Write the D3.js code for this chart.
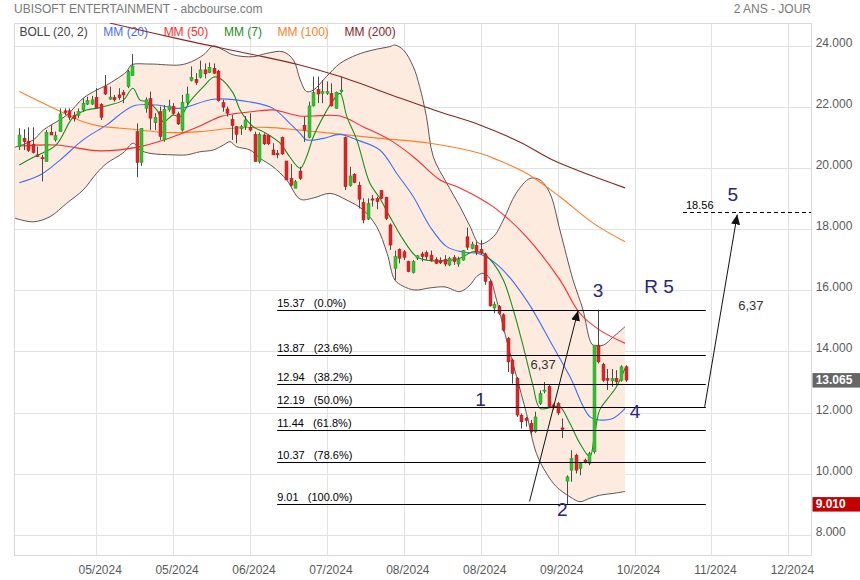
<!DOCTYPE html>
<html><head><meta charset="utf-8">
<script src="https://cdn.jsdelivr.net/npm/d3@7"></script>
<style>
body{margin:0;background:#fff;}
svg{display:block;font-family:"Liberation Sans",Arial,Helvetica,sans-serif;}
</style>
</head><body>
<svg id="c" width="860" height="580"></svg>
<script>
// ---------------- DATA ----------------
const title = "UBISOFT ENTERTAINMENT - abcbourse.com";
const period = "2 ANS - JOUR";
const xTickIdx = [17,34,51,68,85,102,119,136,153,170];
const xTickLabels = ["05/2024","05/2024","06/2024","07/2024","08/2024","08/2024","09/2024","10/2024","11/2024","12/2024"];
const yTicks = [8,10,12,14,16,18,20,22,24];

const open = [20.70,20.97,20.88,20.77,20.43,20.34,20.21,21.17,20.92,21.19,
21.87,21.87,21.72,21.72,21.90,22.09,22.09,22.31,22.08,22.68,
22.25,22.31,22.39,22.47,22.66,23.02,21.19,20.18,21.95,22.27,
21.48,21.84,20.92,21.90,22.01,21.77,21.24,22.14,22.86,22.90,
22.97,23.21,23.12,23.26,23.17,22.14,21.93,21.59,21.35,21.28,
21.35,21.33,21.10,20.21,21.08,21.07,20.59,20.48,21.00,20.23,
19.66,19.34,19.90,21.40,21.00,22.03,22.57,22.44,22.44,22.44,
21.95,22.50,21.00,19.42,19.79,19.44,18.87,18.33,18.99,19.00,
19.26,19.04,18.14,16.72,17.34,17.26,16.94,16.58,17.05,17.19,
17.23,17.15,17.01,16.97,17.01,16.83,17.07,16.86,16.99,17.75,
17.37,17.47,17.34,17.19,16.29,15.42,15.47,15.20,14.43,13.72,
13.12,11.92,11.81,11.65,11.38,12.30,12.70,12.85,12.25,12.30,
11.50,9.76,10.12,10.61,10.17,10.45,10.34,10.72,14.21,13.58,
13.12,13.04,13.12,13.06,13.50];
const high = [21.30,21.27,21.33,21.33,20.70,20.43,21.24,21.41,21.19,21.95,
21.95,21.95,21.84,21.95,22.28,22.33,22.36,22.61,22.12,23.04,
22.66,22.39,22.61,22.55,23.21,23.73,21.46,21.30,22.31,22.50,
21.79,22.01,22.06,22.23,22.12,21.84,22.39,22.66,23.32,23.10,
23.51,23.42,23.45,23.42,23.21,22.23,22.01,21.73,21.37,21.41,
21.70,21.79,21.19,21.16,21.13,21.08,20.81,20.59,21.03,20.23,
20.13,19.61,20.04,21.68,22.17,22.99,22.99,22.88,22.83,22.77,
22.50,22.99,21.03,20.04,19.83,19.55,19.01,19.01,19.12,19.06,
19.28,19.06,18.19,17.30,17.37,17.32,16.97,16.99,17.15,17.26,
17.30,17.30,17.08,17.08,17.15,17.10,17.15,17.10,17.32,18.05,
17.59,17.60,17.65,17.23,16.35,15.63,15.52,15.25,14.48,13.77,
13.17,11.97,11.86,11.76,12.03,12.73,13.00,12.90,12.30,12.35,
11.81,9.95,10.77,10.66,10.39,10.50,10.72,14.21,15.37,13.63,
13.43,13.43,13.39,13.55,13.55];
const low = [20.59,20.59,20.53,20.48,20.37,19.56,20.21,21.08,20.86,21.19,
21.73,21.57,21.52,21.63,21.84,22.06,22.06,21.95,21.57,22.39,
22.23,22.17,22.23,22.12,22.61,23.02,19.70,20.07,21.81,21.24,
21.24,20.92,20.86,21.84,21.73,21.41,21.19,22.06,22.83,22.72,
22.93,22.93,23.10,23.08,22.17,21.84,21.68,20.92,20.81,21.08,
21.24,21.19,20.21,20.15,20.75,20.75,20.43,20.32,20.43,19.61,
19.39,19.34,19.61,20.85,20.97,22.01,22.12,22.12,22.39,22.01,
21.95,22.44,19.28,19.39,19.50,18.68,18.19,18.30,18.74,18.65,
18.98,18.30,17.32,16.34,16.88,16.99,16.59,16.55,16.99,16.94,
16.99,16.94,16.86,16.86,16.79,16.79,16.83,16.77,16.97,17.32,
17.34,17.15,17.16,16.18,15.47,15.25,15.20,14.65,13.33,12.95,
11.86,11.48,11.54,11.27,11.34,12.25,12.63,12.19,12.10,11.92,
11.17,9.01,9.74,10.01,9.95,10.34,10.28,10.66,13.61,13.01,
12.74,12.85,12.90,13.01,13.01];
const close = [21.08,20.86,20.57,20.50,20.37,20.31,21.17,21.08,21.06,21.77,
21.81,21.66,21.61,21.84,22.12,22.20,22.23,21.96,21.66,22.42,
22.32,22.23,22.30,22.39,23.15,23.34,20.18,21.30,22.23,21.63,
21.66,21.03,21.92,22.03,21.79,21.44,22.15,22.42,22.97,22.79,
23.21,23.08,23.29,23.10,22.20,21.99,21.79,21.39,21.10,21.35,
21.57,21.24,20.21,21.10,20.79,20.79,20.43,20.43,20.46,19.61,
19.44,19.55,19.66,21.24,22.03,22.47,22.42,22.50,22.50,22.03,
22.48,22.55,19.39,19.74,19.53,18.98,18.30,18.84,18.95,18.90,
19.01,18.35,17.48,17.10,17.05,17.08,16.61,16.94,17.13,17.10,
17.10,16.99,16.88,16.90,16.86,17.05,16.94,17.01,17.30,17.41,
17.51,17.25,17.22,16.29,15.49,15.55,15.25,14.70,13.66,13.28,
11.92,11.70,11.75,11.38,11.86,12.63,12.74,12.19,12.20,11.99,
11.45,9.90,10.50,10.12,10.34,10.39,10.66,14.21,13.66,13.06,
13.06,13.11,13.01,13.50,13.065];

// indicator readings [day index, value]
const bollUpper = [[-0.95,20.68],[3.1,20.92],[5.3,21.24],[10.5,21.73],[14.1,22.28],[17.1,22.55],[19.3,22.71],[23.7,23.15],[24.8,23.37],[28.9,23.40],[35.5,23.37],[38.1,23.48],[40.7,23.70],[42.9,23.99],[45.1,23.86],[47.3,23.70],[51.7,23.64],[54.7,23.75],[58.3,23.80],[60.6,23.53],[62.1,22.88],[63.5,22.50],[65,22.55],[67.9,22.99],[70.9,23.42],[74.6,23.70],[78.2,23.86],[81.9,23.97],[83,24.02],[84.9,23.86],[87.1,23.31],[88.5,22.66],[90,21.68],[91.5,20.37],[94.5,19.50],[97.4,18.74],[99.6,18.10],[101.8,17.52],[104.8,17.75],[107,18.30],[109.8,19.17],[112.9,19.66],[115.1,19.61],[117.3,19.17],[119.5,17.97],[122.4,16.34],[124.6,15.36],[126.1,14.38],[126.8,14.21],[129.1,14.21],[131.3,14.48],[133.9,14.81]];
const bollLower = [[-0.95,18.36],[3.1,18.24],[6.8,18.41],[10.5,18.85],[14.1,19.28],[17.1,19.83],[19.3,20.15],[22.9,20.49],[25.2,20.81],[26.7,20.59],[28.9,20.48],[34,20.43],[37,20.43],[39.9,20.53],[42.9,20.59],[45.1,20.75],[46.6,20.86],[48,20.70],[51,20.59],[53.2,20.32],[56.1,20.04],[59.1,19.61],[62.1,18.98],[65,19.02],[68.7,19.17],[72.4,18.95],[76,18.63],[79,18.08],[81.3,17.21],[83,16.34],[84.8,16.14],[87.4,16.01],[90.8,16.08],[94.1,16.11],[97.4,15.96],[99.6,16.17],[101.1,16.45],[102.5,16.56],[104,16.39],[105.5,15.68],[107.7,14.38],[109.9,13.18],[112.1,11.98],[114.3,10.67],[116.5,10.02],[118.7,9.58],[121.7,9.25],[123.9,9.09],[126.1,9.20],[128.3,9.30],[131.3,9.36],[133.9,9.42]];
const mm20 = [[0,19.52],[4.6,19.77],[9,20.26],[14.1,20.92],[19.3,21.41],[25.2,22.03],[30.4,22.06],[35.5,21.95],[42.9,22.25],[51,22.16],[56.1,21.95],[59.8,21.46],[62,21.14],[63.5,20.92],[67.2,20.97],[70.9,21.10],[74.6,20.92],[79.7,20.59],[83.4,19.83],[87.1,19.06],[90.8,18.08],[94.5,17.43],[98.1,17.25],[101.8,17.19],[106.2,16.77],[112.1,15.68],[118,14.16],[121.7,13.18],[126.1,11.87],[128.3,11.76],[131.3,11.82],[133.9,12.14]];
const mm50 = [[0,20.72],[8.3,20.75],[17.8,20.56],[26.7,20.70],[34,21.02],[39.9,21.37],[44.4,21.68],[47.3,21.77],[53.2,21.87],[56.1,21.90],[62,21.70],[65,21.70],[70.9,21.70],[76,21.35],[81.9,20.92],[87.1,20.37],[93,19.61],[97.4,19.35],[104.8,18.73],[112.1,17.75],[119.5,16.34],[123.9,15.25],[128.3,14.70],[133.9,14.27]];
const mm7 = [[0,20.10],[3.1,20.35],[8.1,20.75],[11.9,21.66],[14.9,21.90],[17.1,21.95],[20,22.06],[23,22.22],[25.1,22.61],[26.7,22.22],[28.2,22.17],[30.4,21.90],[31.8,21.51],[34,21.73],[35.5,21.68],[37.7,22.17],[40.7,22.66],[42.9,22.97],[44.4,22.93],[47.3,22.44],[48.8,21.90],[51.7,21.35],[53.9,21.19],[57.6,20.82],[59.8,20.36],[62.1,19.99],[63.5,20.37],[65,21.02],[67.2,21.68],[69.4,22.22],[70.9,22.44],[72.4,21.68],[74.6,20.92],[77.5,19.50],[79.7,19.01],[81.9,18.41],[84.9,17.65],[87.8,17.10],[90.8,16.97],[94.5,16.97],[97.4,17.05],[100.3,17.26],[102.5,17.21],[104.8,16.88],[107,16.34],[109.2,15.36],[111.4,14.16],[113.6,12.85],[115.1,12.14],[118,12.19],[119.5,12.19],[121.7,11.65],[123.9,11.00],[126.1,10.56],[127.2,11.33],[128.3,12.09],[129.8,12.41],[132,12.85],[133.9,13.45]];
const mm100 = [[0,22.50],[6.8,22.01],[14.1,21.51],[17.8,21.37],[25.1,21.27],[32.6,21.16],[39.9,21.19],[47.2,21.30],[54.7,21.33],[62,21.24],[68.7,21.14],[79.7,20.97],[90.8,20.81],[101.8,20.48],[105.8,20.26],[112.1,19.83],[119.5,19.06],[126.9,18.19],[133.9,17.59]];
const mm200 = [[20,24.74],[36.2,24.19],[51,23.73],[62,23.37],[70.9,22.99],[84.1,22.29],[93,21.83],[101.8,21.41],[110.6,20.85],[117.9,20.26],[126.1,19.77],[133.9,19.35]];

const legendNames = ["BOLL (20, 2)","MM (20)","MM (50)","MM (7)","MM (100)","MM (200)"];
const legendColors = ["#444444","#3f6fff","#ff2a2a","#1a8f1a","#ff7f22","#8b2525"];

const fibLevels = [15.37,13.87,12.94,12.19,11.44,10.37,9.01];
const fibPct = ["0.0%","23.6%","38.2%","50.0%","61.8%","78.6%","100.0%"];
const fibRange = [57, 151.75];

const waveText = ["1","2","3","4","5","R 5"];
const waveAt = [[101.96,12.42],[120.0,8.82],[127.9,16.01],[136.1,12.03],[157.7,19.12],[141.4,16.11]];
const arrows = [[[112.8,9.1],[123.5,15.33]],[[151.5,12.19],[158.7,18.48]]];
const arrowText = ["6,37","6,37"];
const arrowTextAt = [[115.8,13.59],[161.7,15.52]];
const target = 18.56;
const targetFrom = 146.7;
const lastValue = 13.065;
const lowValue = 9.010;

// ---------------- CHART ----------------
const svg = d3.select("#c");
const P = {l:14.3, r:811, t:23, b:555};
const x = d3.scaleLinear().domain([-1.104,175]).range([P.l,P.r]);
const y = d3.scaleLinear().domain([7.345,24.742]).range([P.b,P.t]);
const px = v => Math.round(v)+0.5;

svg.append("defs").append("clipPath").attr("id","clip")
  .append("rect").attr("x",P.l).attr("y",P.t).attr("width",P.r-P.l).attr("height",P.b-P.t);
const mk = svg.select("defs").append("marker").attr("id","arr")
  .attr("markerUnits","userSpaceOnUse").attr("markerWidth",11).attr("markerHeight",9)
  .attr("refX",10).attr("refY",4.5).attr("orient","auto");
mk.append("path").attr("d","M0,0 L10,4.5 L0,9 Z").attr("fill","#111");

// title
svg.append("text").attr("x",14).attr("y",12.5).attr("font-size",12).attr("fill","#7a7a7a").text(title);
svg.append("text").attr("x",P.r).attr("y",12.5).attr("text-anchor","end").attr("font-size",12).attr("fill","#7a7a7a").text(period);

// grid
const grid = svg.append("g");
grid.selectAll("line.h").data(yTicks).join("line")
  .attr("x1",P.l).attr("x2",P.r).attr("y1",d=>px(y(d))).attr("y2",d=>px(y(d)))
  .attr("stroke","#e2e2e2");
grid.selectAll("line.v").data(xTickIdx).join("line").attr("class","v")
  .attr("y1",P.t).attr("y2",P.b).attr("x1",d=>px(x(d))).attr("x2",d=>px(x(d)))
  .attr("stroke","#e2e2e2");
grid.append("rect").attr("x",px(P.l)).attr("y",px(P.t)).attr("width",Math.round(P.r-P.l)).attr("height",Math.round(P.b-P.t))
  .attr("fill","none").attr("stroke","#d9d9d9");

// axes labels
svg.append("g").selectAll("text").data(yTicks).join("text")
  .attr("x",815.7).attr("y",d=>y(d)+1).attr("font-size",12).attr("fill","#5a5a5a")
  .text(d=>d3.format(".3f")(d));
svg.append("g").selectAll("text").data(xTickIdx).join("text")
  .attr("x",d=>x(d)+4).attr("y",574.3).attr("text-anchor","middle").attr("font-size",12).attr("fill","#5a5a5a")
  .text((d,i)=>xTickLabels[i]);

// legend
const lg = svg.append("g");
let lx = 19.5;
legendNames.forEach((n,i)=>{
  const t = lg.append("text").attr("x",lx).attr("y",36).attr("font-size",12).attr("fill",legendColors[i]).text(n);
  lx += t.node().getComputedTextLength() + 15.6;
});

// plotting layer
const g = svg.append("g").attr("clip-path","url(#clip)");
const line = d3.line().x(d=>x(d[0])).y(d=>y(d[1])).curve(d3.curveCatmullRom.alpha(0.5));

// bollinger
const bandPath = line(bollUpper) + line(bollLower.slice().reverse()).replace(/^M/,"L") + "Z";
g.append("path").attr("d",bandPath).attr("fill","#fdebe0").attr("stroke","none");
g.append("path").attr("d",line(bollUpper)).attr("fill","none").attr("stroke","#5e5553").attr("stroke-width",1);
g.append("path").attr("d",line(bollLower)).attr("fill","none").attr("stroke","#5e5553").attr("stroke-width",1);

// moving averages
[[mm100,"#ff7f22"],[mm50,"#ff2a2a"],[mm20,"#3f6fff"],[mm7,"#1a8f1a"],[mm200,"#8b2525"]].forEach(([s,c])=>{
  g.append("path").attr("d",line(s)).attr("fill","none").attr("stroke",c).attr("stroke-width",1.1);
});

// candles
const idx = d3.range(open.length);
const cg = g.append("g");
cg.selectAll("line").data(idx).join("line")
  .attr("x1",i=>px(x(i))).attr("x2",i=>px(x(i)))
  .attr("y1",i=>y(high[i])).attr("y2",i=>y(low[i]))
  .attr("stroke","#4a4a4a").attr("stroke-width",1);
cg.selectAll("rect").data(idx).join("rect")
  .attr("x",i=>Math.round(x(i))-1)
  .attr("width",3)
  .attr("y",i=>y(Math.max(open[i],close[i])))
  .attr("height",i=>Math.max(1.2,Math.abs(y(open[i])-y(close[i]))))
  .attr("fill",i=>close[i]>=open[i]?"#2fc42f":"#e02424")
  .attr("stroke",i=>close[i]>=open[i]?"#1f9a1f":"#b01818")
  .attr("stroke-width",0.5);

// fibonacci
const fg = svg.append("g");
fg.selectAll("line").data(fibLevels).join("line")
  .attr("x1",x(fibRange[0])).attr("x2",x(fibRange[1]))
  .attr("y1",d=>px(y(d))).attr("y2",d=>px(y(d)))
  .attr("stroke","#000").attr("stroke-width",1);
fg.selectAll("text").data(fibLevels).join("text")
  .attr("x",x(fibRange[0])).attr("y",d=>y(d)-3).attr("font-size",11).attr("fill","#000")
  .style("white-space","pre")
  .text((d,i)=>d3.format(".2f")(d)+"   ("+fibPct[i]+")");

// target dashed line
svg.append("line").attr("x1",x(targetFrom)).attr("x2",P.r)
  .attr("y1",px(y(target))).attr("y2",px(y(target)))
  .attr("stroke","#000").attr("stroke-dasharray","4,3");
svg.append("text").attr("x",x(targetFrom)+3).attr("y",y(target)-3).attr("font-size",11).attr("fill","#000")
  .text(d3.format(".2f")(target));

// arrows
svg.append("g").selectAll("line").data(arrows).join("line")
  .attr("x1",d=>x(d[0][0])).attr("y1",d=>y(d[0][1]))
  .attr("x2",d=>x(d[1][0])).attr("y2",d=>y(d[1][1]))
  .attr("stroke","#111").attr("stroke-width",1).attr("marker-end","url(#arr)");
svg.append("g").selectAll("text").data(arrowTextAt).join("text")
  .attr("x",d=>x(d[0])).attr("y",d=>y(d[1])).attr("text-anchor","middle").attr("dominant-baseline","central")
  .attr("font-size",13).attr("fill","#333").text((d,i)=>arrowText[i]);

// wave labels
svg.append("g").selectAll("text").data(waveAt).join("text")
  .attr("x",d=>x(d[0])).attr("y",d=>y(d[1])).attr("text-anchor","middle").attr("dominant-baseline","central")
  .attr("font-size",19).attr("fill","#262680").text((d,i)=>waveText[i]);

// value boxes on the axis
[[lastValue,"#666666"],[lowValue,"#c40000"]].forEach(([v,c])=>{
  svg.append("rect").attr("x",812.5).attr("y",y(v)-7).attr("width",48).attr("height",14.5).attr("fill",c);
  svg.append("text").attr("x",815.7).attr("y",y(v)+4.3).attr("font-size",12).attr("font-weight","bold")
    .attr("fill","#fff").text(d3.format(".3f")(v));
});
</script>
</body></html>
